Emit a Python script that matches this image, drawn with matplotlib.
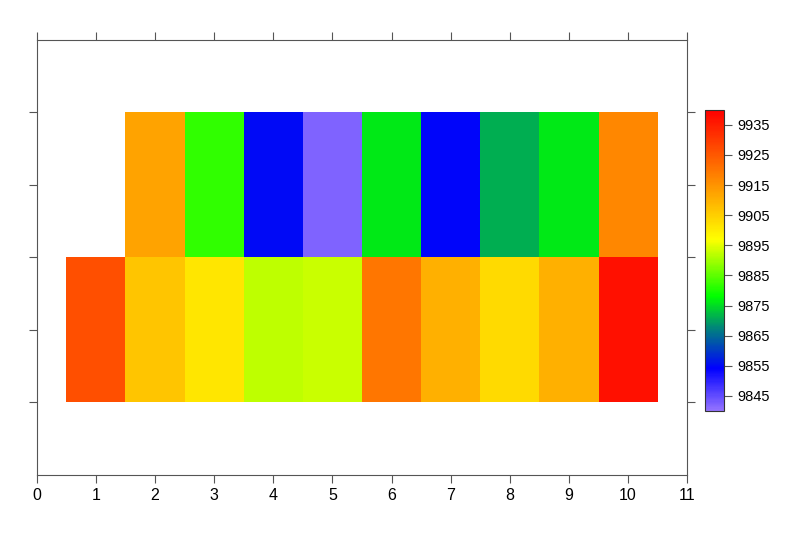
import numpy as np
import matplotlib.pyplot as plt
from matplotlib.colors import LinearSegmentedColormap

plt.rcParams['font.family'] = ['Liberation Sans', 'DejaVu Sans']

x_edges = [0.5, 1.5, 2.5, 3.5, 4.5, 5.5, 6.5, 7.5, 8.5, 9.5, 10.5]
y_edges = [1, 3, 5]
bottom_row = [9926.5, 9906.5, 9901, 9892, 9893, 9920, 9910, 9903, 9910, 9937]
top_row = [np.nan, 9912.5, 9881.5, 9855, 9842, 9876, 9854.5, 9871, 9876, 9917]
cbar_ticks = [9845, 9855, 9865, 9875, 9885, 9895, 9905, 9915, 9925, 9935]

cmap = LinearSegmentedColormap.from_list('surfer', [
    (0.0, (0.58, 0.45, 1.0)),
    (0.14, (0.0, 0.0, 1.0)),
    (0.27, (0.0, 0.5, 0.5)),
    (0.38, (0.0, 1.0, 0.0)),
    (0.57, (1.0, 1.0, 0.0)),
    (0.72, (1.0, 0.65, 0.0)),
    (1.0, (1.0, 0.0, 0.0)),
])

z = np.ma.masked_invalid(np.array([bottom_row, top_row]))

fig = plt.figure(figsize=(8, 5.33), dpi=100)
ax = fig.add_axes([0.046, 0.109, 0.813, 0.816])
mesh = ax.pcolormesh(x_edges, y_edges, z, cmap=cmap, vmin=9840, vmax=9940)

ax.set_xlim(0, 11)
ax.set_ylim(0, 6)
ax.set_xticks(range(12))
ax.set_yticks([1, 2, 3, 4, 5])
ax.tick_params(direction='out', length=6, color='#555555', labelsize=11.5,
               top=True, right=True, labelleft=False)
for s in ax.spines.values():
    s.set_color('#555555')

cax = fig.add_axes([0.881, 0.229, 0.024, 0.565])
cb = fig.colorbar(mesh, cax=cax, ticks=cbar_ticks)
cb.outline.set_edgecolor('#333333')
cax.tick_params(direction='out', length=6, color='#555555', labelsize=10.5)

fig.savefig('out.png', dpi=100)
